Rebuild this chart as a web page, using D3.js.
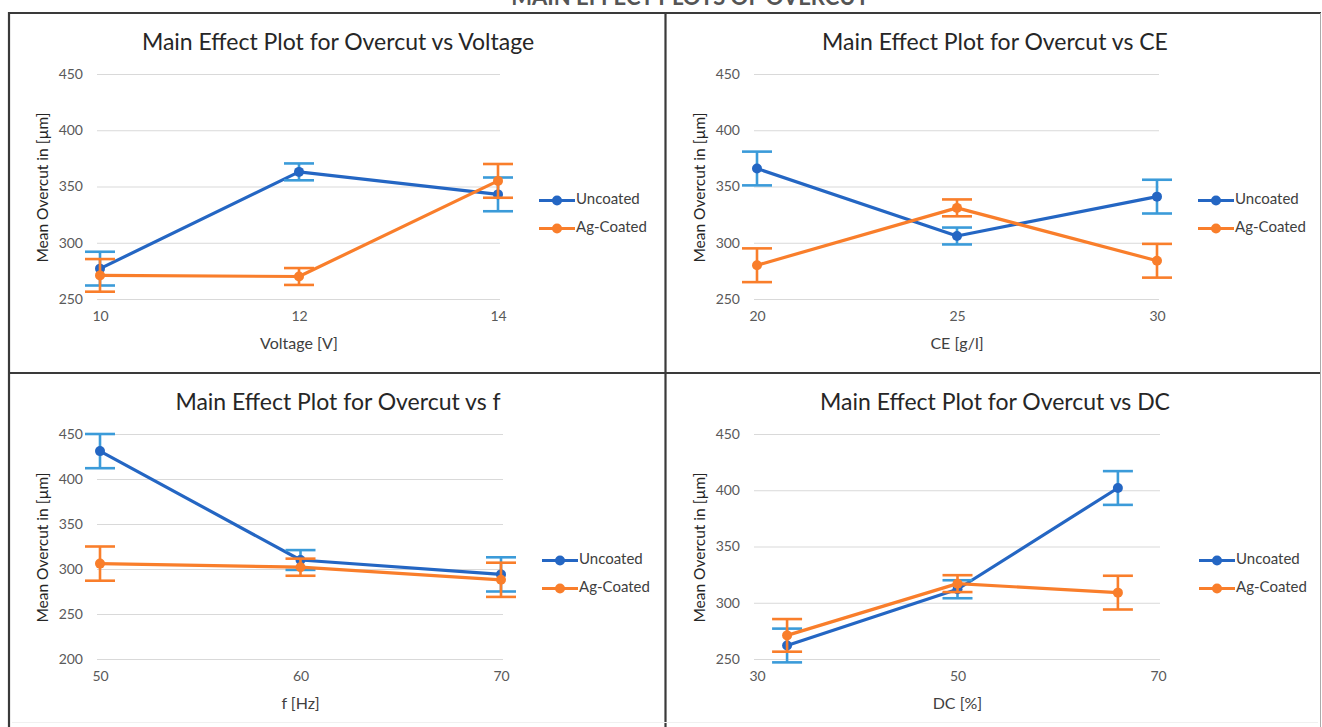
<!DOCTYPE html>
<html>
<head>
<meta charset="utf-8">
<script src="https://cdn.jsdelivr.net/npm/d3@7"></script>
<style>
  body { margin: 0; background: #fff; }
  svg { display: block; font-family: Lato, "Open Sans", sans-serif; }
</style>
</head>
<body>
<div id="plot"></div>
<script>
// data
const seriesNames = ["Uncoated", "Ag-Coated"];

const voltageLevels = [10, 12, 14];
const voltageUncoated = [277, 363, 343];
const voltageUncoatedErr = [15, 7.5, 15];
const voltageCoated = [271, 270, 355];
const voltageCoatedErr = [14.5, 7.5, 15];

const ceLevels = [20, 25, 30];
const ceUncoated = [366, 306, 341];
const ceUncoatedErr = [15, 7.5, 15];
const ceCoated = [280, 331, 284];
const ceCoatedErr = [15, 7.5, 15];

const fLevels = [50, 60, 70];
const fUncoated = [431, 310, 294];
const fUncoatedErr = [19, 11, 19];
const fCoated = [306, 302, 288];
const fCoatedErr = [19, 9.5, 19];

const dcLevels = [33, 50, 66];
const dcUncoated = [262, 312, 402];
const dcUncoatedErr = [15, 8, 15];
const dcCoated = [271, 317, 309];
const dcCoatedErr = [14.5, 7.5, 15];

const yTicksTop = [250, 300, 350, 400, 450];
const yTicksF = [200, 250, 300, 350, 400, 450];

const W = 1322, H = 727;
const lineColors = ["#2466c3", "#f97e2b"];
const errColors = ["#3b9bd9", "#f97e2b"];

const svg = d3.select("div#plot")
    .append("svg")
    .attr("width", W)
    .attr("height", H);

// figure title, mostly cut off at the top edge as in the source
svg.append("text")
    .attr("x", 690)
    .attr("y", 5)
    .attr("text-anchor", "middle")
    .attr("font-size", 22)
    .attr("font-weight", "bold")
    .attr("fill", "#555")
    .text("MAIN EFFECT PLOTS OF OVERCUT");

// panel frame
const frame = svg.append("g").attr("stroke", "#3a3a3a").attr("stroke-width", 2.2);
frame.append("line").attr("x1", 8).attr("x2", 1321).attr("y1", 13).attr("y2", 13);
frame.append("line").attr("x1", 9).attr("x2", 9).attr("y1", 12).attr("y2", 727);
frame.append("line").attr("x1", 665.5).attr("x2", 665.5).attr("y1", 12).attr("y2", 727);
frame.append("line").attr("x1", 9).attr("x2", 1321).attr("y1", 373).attr("y2", 373);
svg.append("line").attr("x1", 1320.5).attr("x2", 1320.5).attr("y1", 13).attr("y2", 727)
    .attr("stroke", "#aaa").attr("stroke-width", 1);
svg.append("line").attr("x1", 12).attr("x2", 1318).attr("y1", 722.5).attr("y2", 722.5)
    .attr("stroke", "#f0f0f0").attr("stroke-width", 1);

const panels = [
  {title: "Main Effect Plot for Overcut vs Voltage", xLabel: "Voltage [V]",
   levels: voltageLevels, xTicks: [10, 12, 14], xDomain: [10, 14], yTicks: yTicksTop,
   ys: [voltageUncoated, voltageCoated], errs: [voltageUncoatedErr, voltageCoatedErr],
   left: 100, right: 498, top: 74, bottom: 299},
  {title: "Main Effect Plot for Overcut vs CE", xLabel: "CE [g/l]",
   levels: ceLevels, xTicks: [20, 25, 30], xDomain: [20, 30], yTicks: yTicksTop,
   ys: [ceUncoated, ceCoated], errs: [ceUncoatedErr, ceCoatedErr],
   left: 757, right: 1157, top: 74, bottom: 299},
  {title: "Main Effect Plot for Overcut vs f", xLabel: "f [Hz]",
   levels: fLevels, xTicks: [50, 60, 70], xDomain: [50, 70], yTicks: yTicksF,
   ys: [fUncoated, fCoated], errs: [fUncoatedErr, fCoatedErr],
   left: 100, right: 501, top: 434, bottom: 659},
  {title: "Main Effect Plot for Overcut vs DC", xLabel: "DC [%]",
   levels: dcLevels, xTicks: [30, 50, 70], xDomain: [30, 70], yTicks: yTicksTop,
   ys: [dcUncoated, dcCoated], errs: [dcUncoatedErr, dcCoatedErr],
   left: 757, right: 1158, top: 434, bottom: 659}
];

panels.forEach(p => {
  const x = d3.scaleLinear().domain(p.xDomain).range([p.left, p.right]);
  const y = d3.scaleLinear().domain(d3.extent(p.yTicks)).range([p.bottom, p.top]);
  const g = svg.append("g");

  // gridlines + y tick labels
  const yAxis = g.append("g")
      .attr("transform", `translate(${p.left - 3},0)`)
      .call(d3.axisLeft(y).tickValues(p.yTicks).tickSize(-(p.right - p.left + 5)).tickPadding(14));
  yAxis.select(".domain").remove();
  yAxis.selectAll(".tick line").attr("stroke", "#d9d9d9").attr("stroke-width", 1.2);
  yAxis.selectAll(".tick text").attr("fill", "#595959").attr("font-size", 14)
      .attr("font-family", "Lato, sans-serif");

  // x tick labels
  const xAxis = g.append("g")
      .attr("transform", `translate(0,${p.bottom})`)
      .call(d3.axisBottom(x).tickValues(p.xTicks).tickFormat(d3.format("d")).tickSize(0).tickPadding(12));
  xAxis.select(".domain").remove();
  xAxis.selectAll(".tick text").attr("fill", "#595959").attr("font-size", 14)
      .attr("font-family", "Lato, sans-serif");

  // titles
  g.append("text")
      .attr("x", p.left + 238)
      .attr("y", p.top - 24)
      .attr("text-anchor", "middle")
      .attr("font-size", 23)
      .attr("fill", "#262626")
      .text(p.title);

  g.append("text")
      .attr("x", (p.left + p.right) / 2)
      .attr("y", p.bottom + 50)
      .attr("text-anchor", "middle")
      .attr("font-size", 16)
      .attr("fill", "#404040")
      .text(p.xLabel);

  g.append("text")
      .attr("transform", `translate(${p.left - 52},${(p.top + p.bottom) / 2 + 1}) rotate(-90)`)
      .attr("text-anchor", "middle")
      .attr("font-size", 15.5)
      .attr("fill", "#262626")
      .text("Mean Overcut in [µm]");

  // series
  seriesNames.forEach((name, s) => {
    const pts = p.levels.map((lv, i) => ({x: lv, y: p.ys[s][i], e: p.errs[s][i]}));
    const sg = g.append("g");

    sg.append("path")
        .datum(pts)
        .attr("fill", "none")
        .attr("stroke", lineColors[s])
        .attr("stroke-width", 3.2)
        .attr("stroke-linejoin", "round")
        .attr("d", d3.line().x(d => x(d.x)).y(d => y(d.y)));

    const eb = sg.selectAll("g.err")
        .data(pts)
        .join("g")
        .attr("stroke", errColors[s])
        .attr("stroke-width", 2.6);
    eb.append("line")
        .attr("x1", d => x(d.x)).attr("x2", d => x(d.x))
        .attr("y1", d => y(d.y + d.e)).attr("y2", d => y(d.y - d.e));
    eb.append("line")
        .attr("x1", d => x(d.x) - 15).attr("x2", d => x(d.x) + 15)
        .attr("y1", d => y(d.y + d.e)).attr("y2", d => y(d.y + d.e));
    eb.append("line")
        .attr("x1", d => x(d.x) - 15).attr("x2", d => x(d.x) + 15)
        .attr("y1", d => y(d.y - d.e)).attr("y2", d => y(d.y - d.e));

    sg.selectAll("circle")
        .data(pts)
        .join("circle")
        .attr("cx", d => x(d.x))
        .attr("cy", d => y(d.y))
        .attr("r", 5)
        .attr("fill", lineColors[s]);

    // legend
    const ly = (p.top + p.bottom) / 2 + 14 + s * 28;
    const lx = p.right + 41;
    svg.append("line")
        .attr("x1", lx).attr("x2", lx + 36)
        .attr("y1", ly).attr("y2", ly)
        .attr("stroke", lineColors[s]).attr("stroke-width", 3.2);
    svg.append("circle")
        .attr("cx", lx + 18).attr("cy", ly).attr("r", 5)
        .attr("fill", lineColors[s]);
    svg.append("text")
        .attr("x", lx + 37).attr("y", ly)
        .attr("dominant-baseline", "middle")
        .attr("font-size", 15)
        .attr("fill", "#404040")
        .text(name);
  });
});
</script>
</body>
</html>
